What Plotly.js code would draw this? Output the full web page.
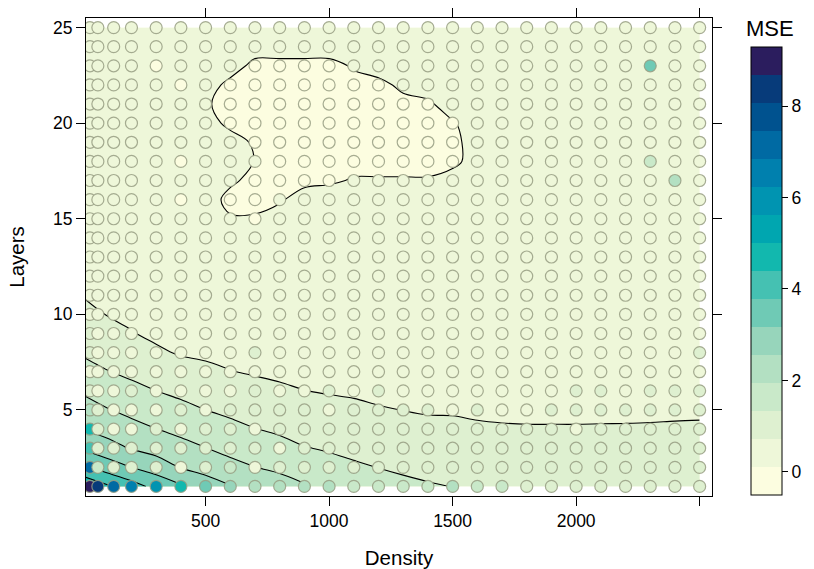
<!DOCTYPE html>
<html>
<head>
<meta charset="utf-8">
<script src="https://cdn.plot.ly/plotly-3.0.1.min.js"></script>
<style>html,body{margin:0;padding:0;background:#fff;}#chart{width:814px;height:569px;}</style>
</head>
<body>
<div id="chart"></div>
<script>
// ---- data ----
var densities = [32, 64, 128, 200, 300, 400, 500, 600, 700, 800, 900, 1000, 1100, 1200, 1300, 1400, 1500, 1600, 1700, 1800, 1900, 2000, 2100, 2200, 2300, 2400, 2500];
var layers = [1,2,3,4,5,6,7,8,9,10,11,12,13,14,15,16,17,18,19,20,21,22,23,24,25];

// observed MSE at each (layers row, density column)
var mse1  = [9.0,8.3,7.3,6.4,5.9,4.8,3.5,2.9,2.5,2.3,2.2,2.2,1.8,1.7,1.8,1.8,2.2,1.6,1.4,1.3,1.2,1.1,1.1,1.2,1.1,1.2,1.1];
var mse2  = [7.0,1.5,0.9,1.1,0.9,0.7,1.3,1.4,0.6,1.0,1.2,1.0,1.1,0.9,1.0,1.1,1.0,1.2,1.0,0.9,1.0,0.8,1.0,0.9,1.0,0.9,1.0];
var mse3  = [4.0,1.2,0.8,0.9,1.0,0.8,0.9,0.9,1.1,0.7,0.9,1.0,1.0,0.9,0.8,0.9,1.0,0.9,0.8,0.8,0.9,0.8,0.9,0.8,0.9,0.8,0.9];
var mse4  = [4.7,1.0,0.6,0.5,0.9,0.4,0.8,1.0,0.6,1.1,0.8,0.9,0.8,0.9,0.8,0.8,0.9,0.8,0.9,0.8,0.9,0.3,0.8,0.9,0.8,0.9,0.8];
var mse5  = [2.0,1.1,0.6,0.5,0.7,0.8,0.5,0.9,1.0,0.8,0.8,0.7,0.9,0.9,0.9,0.8,0.7,0.8,0.7,0.7,0.9,0.9,0.9,0.9,0.9,0.9,0.9];
var mse6  = [1.2,0.6,0.5,0.9,0.5,0.6,0.7,0.6,0.8,0.6,0.5,0.8,0.5,0.8,0.5,0.5,0.6,0.5,0.5,0.6,0.5,0.8,0.8,0.6,0.8,0.8,0.8];
var mse7  = [0.6,0.5,0.4,0.3,0.5,0.4,0.3,0.5,0.5,0.4,0.5,0.4,0.5,0.4,0.5,0.4,0.5,0.4,0.5,0.4,0.5,0.4,0.5,0.4,0.5,0.4,0.5];
var mse8  = [1.0,0.5,0.4,0.4,0.5,0.5,0.4,0.4,0.9,0.4,0.5,0.4,0.5,0.4,0.4,0.5,0.4,0.5,0.4,0.5,0.4,0.5,0.4,0.5,0.4,0.5,0.8];
var mse9  = [1.0,0.5,0.3,0.4,0.5,0.4,0.5,0.4,0.5,0.4,0.5,0.4,0.4,0.5,0.4,0.4,0.5,0.4,0.5,0.4,0.4,0.5,0.4,0.4,0.5,0.4,0.4];
var mse10 = [0.5,0.4,0.4,0.3,0.4,0.5,0.4,0.4,0.4,0.5,0.4,0.4,0.5,0.4,0.4,0.4,0.5,0.4,0.4,0.4,0.5,0.4,0.4,0.5,0.4,0.4,0.4];
var mse11 = [0.5,0.4,0.4,0.4,0.5,0.4,0.4,0.5,0.4,0.4,0.4,0.5,0.4,0.4,0.5,0.4,0.4,0.4,0.5,0.4,0.4,0.4,0.5,0.4,0.4,0.5,0.4];
var mse12 = [0.4,0.4,0.5,0.4,0.4,0.4,0.4,0.4,0.5,0.4,0.4,0.4,0.4,0.5,0.4,0.4,0.4,0.4,0.4,0.5,0.4,0.4,0.4,0.4,0.4,0.4,0.5];
var mse13 = [0.4,0.4,0.4,0.4,0.5,0.4,0.4,0.4,0.4,0.4,0.5,0.4,0.4,0.4,0.4,0.4,0.5,0.4,0.4,0.4,0.4,0.4,0.4,0.5,0.4,0.4,0.4];
var mse14 = [0.4,0.4,0.4,0.4,0.4,0.4,0.5,0.4,0.4,0.4,0.4,0.4,0.4,0.5,0.4,0.4,0.4,0.4,0.4,0.4,0.5,0.4,0.4,0.4,0.4,0.4,0.4];
var mse15 = [0.4,0.4,0.4,0.4,0.4,0.4,0.4,0.4,0.0,0.4,0.4,0.4,0.4,0.4,0.4,0.5,0.4,0.4,0.4,0.4,0.4,0.4,0.5,0.4,0.4,0.4,0.4];
var mse16 = [0.4,0.4,0.4,0.4,0.4,0.0,0.4,0.0,0.0,0.4,0.4,0.4,0.4,0.4,0.4,0.4,0.4,0.4,0.5,0.4,0.4,0.4,0.4,0.4,0.4,0.4,0.4];
var mse17 = [0.4,0.4,0.4,0.4,0.4,0.4,0.4,0.4,0.0,0.0,0.0,0.0,0.4,0.4,0.4,0.4,0.4,0.4,0.4,0.4,0.4,0.4,0.4,0.4,0.4,2.3,0.4];
var mse18 = [0.4,0.4,0.4,0.4,0.4,0.0,0.4,0.4,0.4,0.0,0.0,0.0,0.0,0.0,0.0,0.0,0.0,0.4,0.4,0.4,0.4,0.4,0.4,0.4,1.7,0.4,0.4];
var mse19 = [0.4,0.4,0.4,0.4,0.4,0.4,0.4,0.4,0.0,0.0,0.0,0.0,0.0,0.0,0.0,0.0,0.0,0.4,0.4,0.4,0.4,0.4,0.4,0.4,0.4,0.4,0.4];
var mse20 = [0.4,0.4,0.4,0.4,0.4,0.4,0.4,0.0,0.0,0.0,0.0,0.0,0.0,0.0,0.0,0.0,0.0,0.4,0.4,0.4,0.4,0.4,0.4,0.4,0.4,0.4,0.4];
var mse21 = [0.4,0.4,0.4,0.4,0.4,0.4,0.4,0.0,0.0,0.0,0.0,0.0,0.0,0.0,0.0,0.0,0.4,0.4,0.4,0.4,0.4,0.4,0.4,0.4,0.4,0.4,0.4];
var mse22 = [0.4,0.4,0.4,0.4,0.4,0.0,0.4,0.0,0.0,0.0,0.0,0.0,0.0,0.0,0.4,0.4,0.4,0.4,0.4,0.4,0.4,0.4,0.4,0.4,0.4,0.4,0.4];
var mse23 = [0.4,0.4,0.4,0.4,0.0,0.4,0.4,0.4,0.0,0.0,0.0,0.0,0.4,0.4,0.4,0.4,0.4,0.4,0.4,0.4,0.4,0.4,0.4,0.4,3.5,0.4,0.4];
var mse24 = [0.4,0.4,0.4,0.4,0.4,0.4,0.4,0.4,0.4,0.4,0.4,0.4,0.4,0.4,0.4,0.4,0.4,0.4,0.4,0.4,0.4,0.4,0.4,0.4,0.4,0.4,0.4];
var mse25 = [0.4,0.4,0.4,0.4,0.4,0.4,0.4,0.4,0.4,0.4,0.4,0.4,0.4,0.4,0.4,0.4,0.4,0.4,0.4,0.4,0.4,0.4,0.4,0.4,0.4,0.4,0.4];
var mseRows = [mse1,mse2,mse3,mse4,mse5,mse6,mse7,mse8,mse9,mse10,mse11,mse12,mse13,mse14,mse15,mse16,mse17,mse18,mse19,mse20,mse21,mse22,mse23,mse24,mse25];

// smoothed surface (background levels) on a 100-step density grid
var surfDensity = [0,100,200,300,400,500,600,700,800,900,1000,1100,1200,1300,1400,1500,1600,1700,1800,1900,2000,2100,2200,2300,2400,2500];
var fit1  = [5.0,4.5,4.05,3.6,3.25,2.85,2.6,2.3,2.2,2.0,1.7,1.6,1.52,1.45,1.38,1.33,1.28,1.2,1.15,1.1,1.08,1.06,1.05,1.04,1.03,1.02];
var fit2  = [3.9,3.5,3.18,2.9,2.54,2.36,2.11,1.96,1.83,1.65,1.5,1.41,1.33,1.26,1.21,1.16,1.12,1.06,1.02,0.99,0.97,0.96,0.96,0.96,0.96,0.96];
var fit3  = [3.12,2.81,2.52,2.33,2.14,1.96,1.8,1.64,1.51,1.36,1.29,1.21,1.13,1.08,1.03,0.99,0.95,0.92,0.89,0.87,0.86,0.86,0.86,0.87,0.88,0.89];
var fit4  = [2.53,2.35,2.14,1.96,1.8,1.65,1.49,1.35,1.25,1.13,1.08,1.01,0.94,0.9,0.85,0.83,0.78,0.765,0.76,0.76,0.76,0.765,0.77,0.78,0.8,0.818];
var fit5  = [2.21,1.99,1.8,1.64,1.49,1.34,1.22,1.12,1.03,0.93,0.87,0.81,0.75,0.72,0.68,0.68,0.66,0.64,0.62,0.62,0.62,0.62,0.62,0.62,0.62,0.62];
var fit6  = [1.89,1.66,1.49,1.34,1.21,1.08,0.97,0.88,0.79,0.73,0.69,0.67,0.65,0.63,0.61,0.6,0.59,0.58,0.57,0.57,0.57,0.57,0.57,0.57,0.57,0.57];
var fit7  = [1.56,1.36,1.22,1.07,0.93,0.82,0.74,0.68,0.65,0.62,0.6,0.58,0.56,0.55,0.54,0.53,0.52,0.51,0.51,0.51,0.51,0.51,0.51,0.51,0.51,0.51];
var fit8  = [1.28,1.13,0.98,0.8,0.68,0.65,0.6,0.58,0.56,0.54,0.52,0.51,0.5,0.49,0.48,0.47,0.46,0.46,0.45,0.45,0.45,0.45,0.45,0.45,0.45,0.45];
var fit9  = [1.09,0.92,0.75,0.63,0.58,0.55,0.52,0.5,0.49,0.48,0.47,0.46,0.45,0.44,0.43,0.42,0.42,0.41,0.41,0.41,0.41,0.41,0.41,0.41,0.41,0.41];
var fit10 = [0.9,0.71,0.62,0.54,0.51,0.49,0.47,0.45,0.44,0.43,0.42,0.41,0.4,0.39,0.38,0.38,0.37,0.37,0.37,0.37,0.37,0.37,0.37,0.37,0.37,0.37];
var fit11 = [0.71,0.6,0.53,0.48,0.46,0.45,0.43,0.42,0.41,0.4,0.39,0.38,0.37,0.36,0.35,0.35,0.34,0.34,0.34,0.34,0.34,0.34,0.34,0.34,0.34,0.34];
var fit12 = [0.6,0.52,0.47,0.44,0.42,0.41,0.4,0.39,0.38,0.37,0.36,0.35,0.34,0.33,0.33,0.32,0.32,0.32,0.32,0.32,0.32,0.32,0.32,0.32,0.32,0.32];
var fit13 = [0.52,0.47,0.43,0.41,0.4,0.39,0.38,0.37,0.36,0.35,0.34,0.33,0.32,0.31,0.31,0.3,0.3,0.3,0.3,0.3,0.3,0.3,0.3,0.3,0.3,0.3];
var fit14 = [0.47,0.43,0.4,0.38,0.37,0.36,0.35,0.34,0.33,0.32,0.31,0.31,0.3,0.3,0.3,0.3,0.3,0.3,0.3,0.3,0.3,0.3,0.3,0.3,0.3,0.3];
var fit15 = [0.42,0.4,0.37,0.35,0.33,0.31,0.15,0.15,0.3,0.3,0.3,0.3,0.3,0.3,0.3,0.3,0.3,0.3,0.3,0.3,0.3,0.3,0.3,0.3,0.3,0.3];
var fit16 = [0.42,0.4,0.37,0.35,0.33,0.3,0,0,0.06,0.3,0.3,0.3,0.3,0.3,0.3,0.3,0.3,0.3,0.3,0.3,0.3,0.3,0.3,0.3,0.3,0.3];
var fit17 = [0.42,0.4,0.37,0.35,0.33,0.3,0.18,0,0,0,0.06,0.14,0.14,0.14,0.14,0.3,0.3,0.3,0.3,0.3,0.3,0.3,0.3,0.3,0.3,0.3];
var fit18 = [0.42,0.4,0.37,0.35,0.33,0.3,0.3,0.1,0,0,0,0,0,0,0,0,0.3,0.3,0.3,0.3,0.3,0.3,0.3,0.3,0.3,0.3];
var fit19 = [0.42,0.4,0.37,0.35,0.33,0.3,0.3,0.05,0,0,0,0,0,0,0,0,0.3,0.3,0.3,0.3,0.3,0.3,0.3,0.3,0.3,0.3];
var fit20 = [0.42,0.4,0.37,0.35,0.33,0.3,0,0,0,0,0,0,0,0,0,0.08,0.3,0.3,0.3,0.3,0.3,0.3,0.3,0.3,0.3,0.3];
var fit21 = [0.42,0.4,0.37,0.35,0.33,0.15,0,0,0,0,0,0,0,0,0.05,0.3,0.3,0.3,0.3,0.3,0.3,0.3,0.3,0.3,0.3,0.3];
var fit22 = [0.42,0.4,0.37,0.35,0.33,0.3,0,0,0,0,0,0,0,0.2,0.3,0.3,0.3,0.3,0.3,0.3,0.3,0.3,0.3,0.3,0.3,0.3];
var fit23 = [0.42,0.4,0.37,0.35,0.33,0.3,0.3,0,0,0,0,0.15,0.3,0.3,0.3,0.3,0.3,0.3,0.3,0.3,0.3,0.3,0.3,0.3,0.3,0.3];
var fit24 = [0.42,0.4,0.37,0.35,0.33,0.3,0.3,0.3,0.3,0.3,0.3,0.3,0.3,0.3,0.3,0.3,0.3,0.3,0.3,0.3,0.3,0.3,0.3,0.3,0.3,0.3];
var fit25 = [0.42,0.4,0.37,0.35,0.33,0.3,0.3,0.3,0.3,0.3,0.3,0.3,0.3,0.3,0.3,0.3,0.3,0.3,0.3,0.3,0.3,0.3,0.3,0.3,0.3,0.3];
var fitRows = [fit1,fit2,fit3,fit4,fit5,fit6,fit7,fit8,fit9,fit10,fit11,fit12,fit13,fit14,fit15,fit16,fit17,fit18,fit19,fit20,fit21,fit22,fit23,fit24,fit25];

// colour bands (low -> high)
var bandColors = ['#FCFDE0','#EEF7D9','#DEF0D0','#C9E9C9','#B3E0C2','#97D5BB','#6FCAB5','#45C1B2',
                  '#12B8AE','#00A6B0','#0094B1','#0080AE','#006AA3','#00528F','#073B7A','#2B1D5E'];
var levelMin = -0.5, levelMax = 9.3;
var colorTicks = [0, 2, 4, 6, 8];
var xTickVals = [500, 1000, 1500, 2000, 2500];
var xTickText = ['500', '1000', '1500', '2000', ''];
var yTickVals = [5, 10, 15, 20, 25];

// ---- build ----
var nb = bandColors.length;
var bandSize = (levelMax - levelMin) / nb;
var contourScale = bandColors.map(function(c, i){ return [i/(nb-1), c]; });
var stepScale = [];
bandColors.forEach(function(c, i){ stepScale.push([i/nb, c]); stepScale.push([(i+1)/nb, c]); });

var px = [], py = [], pc = [];
for (var r = 0; r < layers.length; r++) {
  for (var c = 0; c < densities.length; c++) {
    px.push(densities[c]); py.push(layers[r]); pc.push(mseRows[r][c]);
  }
}

var font = 'Liberation Sans, Arial, Helvetica, sans-serif';

var contour = {
  type: 'contour', x: surfDensity, y: layers, z: fitRows,
  colorscale: contourScale, showscale: false, hoverinfo: 'skip',
  contours: {start: levelMin + bandSize, end: levelMax - bandSize*0.999, size: bandSize, coloring: 'fill', showlines: true},
  line: {color: '#000', width: 1.1, smoothing: 1}
};

var pts = {
  type: 'scatter', mode: 'markers', x: px, y: py, hoverinfo: 'x+y',
  marker: {
    size: 12, color: pc, colorscale: stepScale, cmin: levelMin, cmax: levelMax,
    line: {color: 'rgba(150,158,130,0.85)', width: 1.2},
    showscale: true,
    colorbar: {
      thickness: 31, len: 448, lenmode: 'pixels',
      x: (755-86)/630, xanchor: 'left', y: (496-46.7)/478, yanchor: 'top',
      xpad: 0, ypad: 0, outlinewidth: 1, outlinecolor: '#000',
      tickvals: colorTicks, ticks: 'outside', ticklen: 6, tickcolor: '#000',
      tickfont: {family: font, size: 17.5, color: '#000'}
    }
  }
};

var layout = {
  width: 814, height: 569,
  margin: {l: 86, r: 98, t: 18, b: 73},
  paper_bgcolor: '#fff', plot_bgcolor: '#fff',
  showlegend: false,
  font: {family: font, color: '#000'},
  xaxis: {
    range: [16, 2550], tickvals: xTickVals, ticktext: xTickText,
    ticks: 'outside', ticklen: 9, tickwidth: 1, tickcolor: '#000',
    showline: true, linecolor: '#000', linewidth: 1, mirror: 'ticks',
    showgrid: false, zeroline: false,
    tickfont: {family: font, size: 17.5, color: '#000'},
    title: {text: 'Density', font: {family: font, size: 20.5, color: '#000'}, standoff: 20}
  },
  yaxis: {
    range: [0.5, 25.5], tickvals: yTickVals,
    ticks: 'outside', ticklen: 9, tickwidth: 1, tickcolor: '#000',
    showline: true, linecolor: '#000', linewidth: 1, mirror: 'ticks',
    showgrid: false, zeroline: false,
    tickfont: {family: font, size: 17.5, color: '#000'},
    title: {text: 'Layers', font: {family: font, size: 20.5, color: '#000'}, standoff: 22}
  },
  annotations: [{
    text: 'MSE', xref: 'paper', yref: 'paper', x: (774-86)/630, y: (496-28)/478,
    xanchor: 'center', yanchor: 'middle', showarrow: false,
    font: {family: font, size: 22, color: '#000'}
  }]
};

Plotly.newPlot('chart', [contour, pts], layout, {staticPlot: true});
</script>
</body>
</html>
